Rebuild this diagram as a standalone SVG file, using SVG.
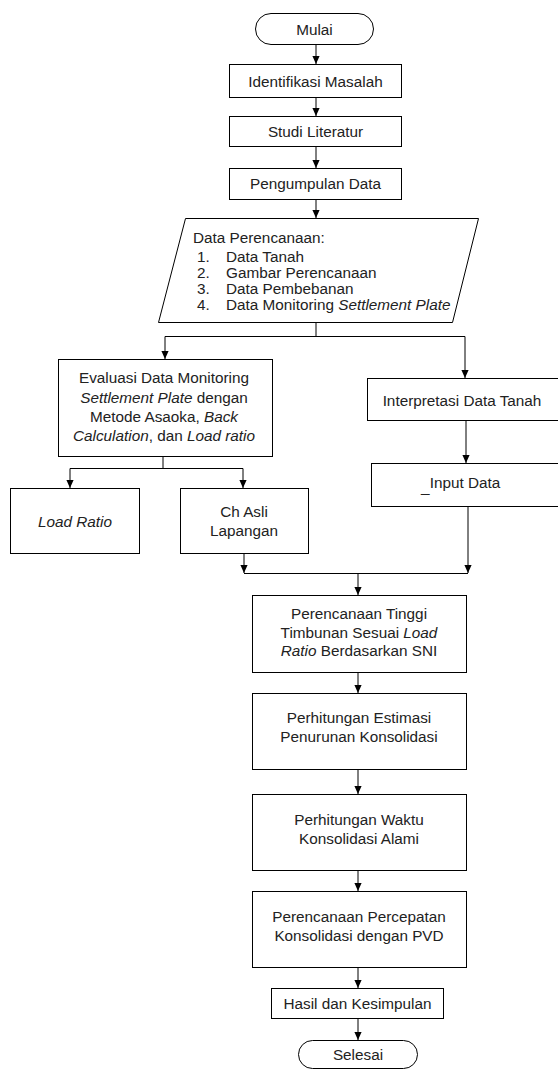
<svg xmlns="http://www.w3.org/2000/svg" width="558" height="1069" viewBox="0 0 558 1069">
<defs>
<style>
.box{fill:#fff;stroke:#000;stroke-width:1}
.t{font-family:"Liberation Sans",Arial,sans-serif;font-size:15.3px;fill:#222;text-anchor:middle}
.l{text-anchor:start}
.i{font-style:italic}
.c{fill:none;stroke:#000;stroke-width:1}
</style>
<marker id="ah" viewBox="0 0 10 10" refX="10" refY="5" markerWidth="8" markerHeight="8" markerUnits="userSpaceOnUse" orient="auto">
<path d="M0,0.5 L10,5 L0,9.5 z" fill="#000"/>
</marker>
</defs>
<rect width="558" height="1069" fill="#fff"/>
<g id="connectors">
<path class="c" d="M316,44.5 V64" marker-end="url(#ah)"/>
<path class="c" d="M316,97.5 V116" marker-end="url(#ah)"/>
<path class="c" d="M316,146.5 V168" marker-end="url(#ah)"/>
<path class="c" d="M316,199.5 V218" marker-end="url(#ah)"/>
<path class="c" d="M316,322.5 V336.5 M165,336.5 H465"/>
<path class="c" d="M165,336.5 V359" marker-end="url(#ah)"/>
<path class="c" d="M465,336.5 V378" marker-end="url(#ah)"/>
<path class="c" d="M163,456.5 V468.5 M70,468.5 H243"/>
<path class="c" d="M70,468.5 V488" marker-end="url(#ah)"/>
<path class="c" d="M243,468.5 V488" marker-end="url(#ah)"/>
<path class="c" d="M466,420.5 V463" marker-end="url(#ah)"/>
<path class="c" d="M244,553.5 V573" marker-end="url(#ah)"/>
<path class="c" d="M468,506.5 V573" marker-end="url(#ah)"/>
<path class="c" d="M244,573.5 H468"/>
<path class="c" d="M358,573.5 V595" marker-end="url(#ah)"/>
<path class="c" d="M358,672.5 V693" marker-end="url(#ah)"/>
<path class="c" d="M358,769.5 V794" marker-end="url(#ah)"/>
<path class="c" d="M358,870.5 V891" marker-end="url(#ah)"/>
<path class="c" d="M358,967.5 V988" marker-end="url(#ah)"/>
<path class="c" d="M358,1018.5 V1040" marker-end="url(#ah)"/>
</g>
<g id="mulai">
<rect class="box" x="255.5" y="13.5" width="118" height="31" rx="15.5"/>
<text class="t" x="314.5" y="35">Mulai</text>
</g>
<g id="identifikasi">
<rect class="box" x="229.5" y="64.5" width="172" height="33"/>
<text class="t" x="315.5" y="86.5">Identifikasi Masalah</text>
</g>
<g id="studi">
<rect class="box" x="229.5" y="116.5" width="172" height="30"/>
<text class="t" x="315.5" y="137">Studi Literatur</text>
</g>
<g id="pengumpulan">
<rect class="box" x="229.5" y="168.5" width="172" height="31"/>
<text class="t" x="315.5" y="189">Pengumpulan Data</text>
</g>
<g id="data-perencanaan">
<polygon class="box" points="185.5,218.5 478.5,218.5 452.5,322.5 158.5,322.5"/>
<text class="t l" x="193" y="242.5">Data Perencanaan:</text>
<text class="t l" x="197" y="261.5">1.</text><text class="t l" x="226" y="261.5">Data Tanah</text>
<text class="t l" x="197" y="277.5">2.</text><text class="t l" x="226" y="277.5">Gambar Perencanaan</text>
<text class="t l" x="197" y="293.5">3.</text><text class="t l" x="226" y="293.5">Data Pembebanan</text>
<text class="t l" x="197" y="309.5">4.</text><text class="t l" x="226" y="309.5">Data Monitoring <tspan class="i">Settlement Plate</tspan></text>
</g>
<g id="evaluasi">
<rect class="box" x="58.5" y="359.5" width="214" height="97"/>
<text class="t" x="164" y="383">Evaluasi Data Monitoring</text>
<text class="t" x="164" y="402.5"><tspan class="i">Settlement Plate</tspan> dengan</text>
<text class="t" x="164" y="421.5">Metode Asaoka, <tspan class="i">Back</tspan></text>
<text class="t" x="164" y="440.5"><tspan class="i">Calculation</tspan>, dan <tspan class="i">Load ratio</tspan></text>
</g>
<g id="interpretasi">
<rect class="box" x="367.5" y="378.5" width="195" height="42"/>
<text class="t" x="462" y="405.5">Interpretasi Data Tanah</text>
</g>
<g id="input-data">
<rect class="box" x="371.5" y="463.5" width="191" height="43"/>
<text class="t" x="465" y="487.5">Input Data</text>
<text class="t l" x="421" y="491.5">_</text>
</g>
<g id="load-ratio">
<rect class="box" x="10.5" y="488.5" width="129" height="65"/>
<text class="t i" x="75" y="526.5">Load Ratio</text>
</g>
<g id="ch-asli">
<rect class="box" x="180.5" y="488.5" width="128" height="65"/>
<text class="t" x="244" y="516.5">Ch Asli</text>
<text class="t" x="244" y="535.5">Lapangan</text>
</g>
<g id="tinggi">
<rect class="box" x="252.5" y="595.5" width="214" height="77"/>
<text class="t" x="359" y="618.5">Perencanaan Tinggi</text>
<text class="t" x="359" y="637.5">Timbunan Sesuai <tspan class="i">Load</tspan></text>
<text class="t" x="359" y="656"><tspan class="i">Ratio</tspan> Berdasarkan SNI</text>
</g>
<g id="estimasi">
<rect class="box" x="252.5" y="693.5" width="214" height="76"/>
<text class="t" x="359" y="722.5">Perhitungan Estimasi</text>
<text class="t" x="359" y="741.5">Penurunan Konsolidasi</text>
</g>
<g id="waktu">
<rect class="box" x="252.5" y="794.5" width="214" height="76"/>
<text class="t" x="359" y="824.5">Perhitungan Waktu</text>
<text class="t" x="359" y="843.5">Konsolidasi Alami</text>
</g>
<g id="percepatan">
<rect class="box" x="252.5" y="891.5" width="214" height="76"/>
<text class="t" x="359" y="921.5">Perencanaan Percepatan</text>
<text class="t" x="359" y="940.5">Konsolidasi dengan PVD</text>
</g>
<g id="hasil">
<rect class="box" x="271.5" y="988.5" width="172" height="30"/>
<text class="t" x="357.5" y="1008.5">Hasil dan Kesimpulan</text>
</g>
<g id="selesai">
<rect class="box" x="298.5" y="1040.5" width="119" height="28" rx="14"/>
<text class="t" x="358" y="1060">Selesai</text>
</g>
</svg>
